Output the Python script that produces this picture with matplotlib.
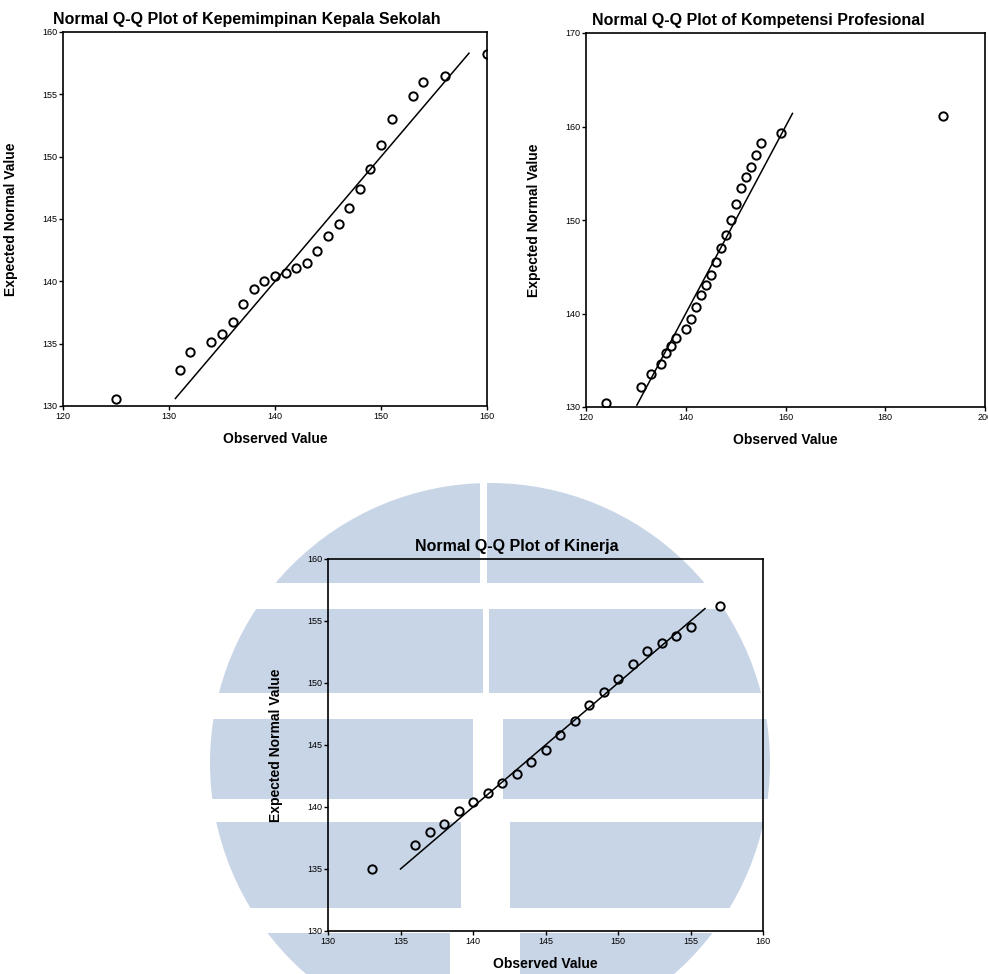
import numpy as np
import matplotlib.pyplot as plt
from matplotlib.patches import Circle, Rectangle

plt.rcParams['font.family'] = ['Liberation Sans', 'DejaVu Sans']

# Q-Q plot of Kepemimpinan Kepala Sekolah
kep_obs = [125, 131, 132, 134, 135, 136, 137, 138, 139, 140, 141, 142, 143,
           144, 145, 146, 147, 148, 149, 150, 151, 153, 154, 156, 160]
kep_exp = [130.6, 132.9, 134.35, 135.1, 135.8, 136.7, 138.2, 139.4, 140.0,
           140.4, 140.7, 141.1, 141.5, 142.4, 143.6, 144.6, 145.9, 147.4,
           149.0, 150.9, 153.0, 154.9, 156.0, 156.5, 158.2]
kep_line = [130.6, 158.3]

# Q-Q plot of Kompetensi Profesional
kom_obs = [124, 131, 133, 135, 136, 137, 138, 140, 141, 142, 143, 144, 145,
           146, 147, 148, 149, 150, 151, 152, 153, 154, 155, 159, 191.5]
kom_exp = [130.4, 132.1, 133.5, 134.6, 135.8, 136.5, 137.4, 138.3, 139.4,
           140.7, 142.0, 143.1, 144.1, 145.5, 147.0, 148.4, 150.0, 151.7,
           153.4, 154.6, 155.7, 157.0, 158.2, 159.3, 161.1]
kom_line = [130.2, 161.4]

# Q-Q plot of Kinerja
kin_obs = [133, 136, 137, 138, 139, 140, 141, 142, 143, 144, 145, 146, 147,
           148, 149, 150, 151, 152, 153, 154, 155, 157]
kin_exp = [135.0, 136.9, 138.0, 138.6, 139.7, 140.4, 141.1, 141.9, 142.7,
           143.6, 144.6, 145.8, 146.9, 148.2, 149.3, 150.3, 151.5, 152.6,
           153.2, 153.8, 154.5, 156.2]
kin_line = [135.0, 156.0]

W, H = 988, 974
fig = plt.figure(figsize=(W / 100, H / 100), dpi=100)

# watermark behind the bottom chart (pixel coords)
bg = fig.add_axes([0, 0, 1, 1], zorder=-5)
bg.set_xlim(0, W)
bg.set_ylim(H, 0)
bg.axis('off')
wm_color = '#c8d5e7'
circ = Circle((490, 763), 280, facecolor='none', edgecolor='none')
bg.add_patch(circ)
bands = [(470, 583, 480, 487), (609, 693, 483, 489), (719, 799, 473, 503),
         (822, 908, 461, 510), (933, 980, 450, 520)]
for y0, y1, gl, gr in bands:
    for x0, x1 in [(190, gl), (gr, 790)]:
        r = Rectangle((x0, y0), x1 - x0, y1 - y0, facecolor=wm_color,
                      edgecolor='none')
        bg.add_patch(r)
        r.set_clip_path(circ)


def qq_panel(rect, obs, exp, line, title, xlim, ylim, xticks, yticks):
    ax = fig.add_axes([rect[0] / W, 1 - rect[3] / H,
                       (rect[2] - rect[0]) / W, (rect[3] - rect[1]) / H])
    ax.patch.set_alpha(0)
    ax.plot(line, line, color='black', lw=1.1)
    ax.plot(obs, exp, 'o', ms=6, mfc='none', mec='black', mew=1.4)
    ax.set_xlim(xlim)
    ax.set_ylim(ylim)
    ax.set_xticks(xticks)
    ax.set_yticks(yticks)
    ax.tick_params(labelsize=6.5, length=3, width=1, pad=1)
    for s in ax.spines.values():
        s.set_linewidth(1.2)
    ax.set_title(title, fontsize=11.5, fontweight='bold', x=0.433, pad=6)
    ax.set_xlabel('Observed Value', fontsize=10, fontweight='bold')
    ax.set_ylabel('Expected Normal Value', fontsize=10, fontweight='bold')
    ax.yaxis.set_label_coords(-45 / (rect[2] - rect[0]), 0.5)
    ax.xaxis.set_label_coords(0.5, -26 / (rect[3] - rect[1]))
    return ax


qq_panel((63, 32, 487, 406), kep_obs, kep_exp, kep_line,
         'Normal Q-Q Plot of Kepemimpinan Kepala Sekolah',
         (120, 160), (130, 160), range(120, 161, 10), range(130, 161, 5))
qq_panel((586, 33, 985, 407), kom_obs, kom_exp, kom_line,
         'Normal Q-Q Plot of Kompetensi Profesional',
         (120, 200), (130, 170), range(120, 201, 20), range(130, 171, 10))
qq_panel((328, 559, 763, 931), kin_obs, kin_exp, kin_line,
         'Normal Q-Q Plot of Kinerja',
         (130, 160), (130, 160), range(130, 161, 5), range(130, 161, 5))

fig.savefig('out.png', dpi=100)
